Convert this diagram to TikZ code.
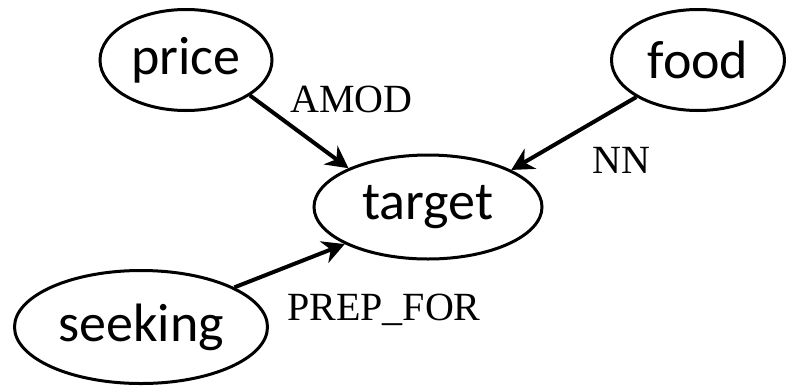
\documentclass[tikz,border=0pt]{standalone}
\usepackage{fontspec}
\setmainfont{Liberation Serif}
\newfontfamily\wordfont{Carlito}
\usetikzlibrary{shapes.geometric,arrows.meta}

\tikzset{
  word/.style={ellipse, draw, line width=3pt, inner sep=0pt,
    font=\wordfont\fontsize{54}{60}\selectfont},
  rel/.style={inner sep=0pt, anchor=base west,
    font=\fontsize{40}{46}\selectfont},
  dep/.style={line width=4pt,
    -{Stealth[length=22pt,width=23pt,inset=7pt]}}
}

\begin{document}
\begin{tikzpicture}[x=1pt,y=-1pt]
  \useasboundingbox (0,0) rectangle (786,386);

  % words
  \node[word, minimum width=172pt, minimum height=101pt] (price)   at (186,60)  {price};
  \node[word, minimum width=173pt, minimum height=101pt] (food)    at (698,60)  {food};
  \node[word, minimum width=228pt, minimum height=104pt] (target)  at (428,207) {target};
  \node[word, minimum width=253pt, minimum height=113pt] (seeking) at (141,327) {seeking};

  % dependency edges
  \draw[dep] (price.-29.4)   -- (target.154.9);
  \draw[dep] (food.-149.2)   -- (target.24.3);
  \draw[dep] (seeking.23)    -- (target.204);

  % relation labels
  \node[rel] (amod)    at (290,112) {AMOD};
  \node[rel] (nn)      at (592,173) {NN};
  \node[rel] (prepfor) at (287,320) {PREP\_FOR};
\end{tikzpicture}
\end{document}
